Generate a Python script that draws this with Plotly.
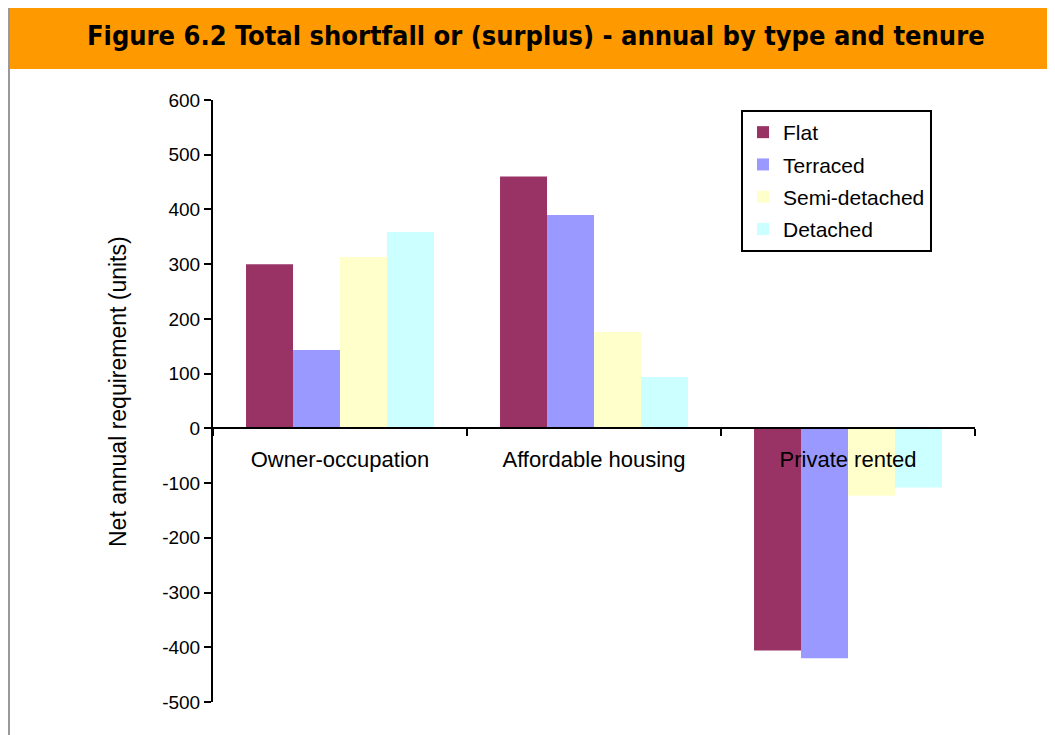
import plotly.graph_objects as go

categories = ["Owner-occupation", "Affordable housing", "Private rented"]
series_names = ["Flat", "Terraced", "Semi-detached", "Detached"]
flat = [300, 460, -406]
terraced = [143, 390, -420]
semi_detached = [313, 176, -123]
detached = [359, 94, -108]
colors = ["#993366", "#9999FF", "#FFFFCC", "#CCFFFF"]
y_ticks = [600, 500, 400, 300, 200, 100, 0, -100, -200, -300, -400, -500]
y_tick_text = [str(v) for v in y_ticks]

OFF = 8  # page body margin
W, H = 1055 - OFF, 735 - OFF
# plot area in screen pixels
L, R, T, B = 213, 975, 100, 702


def px(x):
    return (x - L) / (R - L)


def py(y):
    return (B - y) / (B - T)


fig = go.Figure()
for i, (name, vals) in enumerate(zip(series_names, [flat, terraced, semi_detached, detached])):
    fig.add_trace(go.Bar(
        x=categories, y=vals, name=name, legendgroup=name,
        marker=dict(color=colors[i], line=dict(width=0)),
    ))

font_main = "Liberation Sans, Arial, sans-serif"

fig.update_layout(
    width=W, height=H,
    margin=dict(l=L - OFF, r=W - (R - OFF), t=T - OFF, b=H - (B - OFF), pad=0),
    paper_bgcolor="white", plot_bgcolor="white",
    barmode="group", bargap=0.26, bargroupgap=0,
    showlegend=True,
    legend=dict(
        x=px(741), y=py(110), xanchor="left", yanchor="top",
        bordercolor="black", borderwidth=2, bgcolor="white",
        font=dict(family=font_main, size=21, color="black"),
        tracegroupgap=2, itemwidth=30,
    ),
    font=dict(family=font_main, color="black"),
    xaxis=dict(
        type="category", anchor="free", position=py(428.4),
        showline=True, linecolor="black", linewidth=2,
        ticks="outside", tickson="boundaries", ticklen=7, tickwidth=2, tickcolor="black",
        tickfont=dict(size=22, family=font_main), showgrid=False, zeroline=False,
        ticklabelstandoff=11,
        layer="above traces",
    ),
    yaxis=dict(
        range=[-500, 600], tickvals=y_ticks, ticktext=y_tick_text,
        showline=True, linecolor="black", linewidth=2,
        ticks="outside", ticklen=7, tickwidth=2, tickcolor="black",
        tickfont=dict(size=19, family=font_main), showgrid=False,
        zeroline=False,
    ),
    shapes=[
        dict(type="rect", xref="paper", yref="paper", x0=px(10), x1=px(1060), y0=py(69), y1=py(3),
             fillcolor="#FF9900", line=dict(width=0), layer="below"),
        dict(type="line", xref="paper", yref="paper", x0=px(9), x1=px(9), y0=py(0), y1=py(740),
             line=dict(color="#999999", width=2)),
        dict(type="line", xref="paper", yref="paper", x0=px(9), x1=px(1060), y0=py(2), y1=py(2),
             line=dict(color="#999999", width=2)),
    ],
    annotations=[
        dict(text="<b>Figure 6.2 Total shortfall or (surplus) - annual by type and tenure</b>",
             xref="paper", yref="paper", x=px(536), y=py(36), xanchor="center", yanchor="middle",
             showarrow=False, font=dict(family="DejaVu Sans Condensed, DejaVu Sans, sans-serif", size=27, color="black")),
        dict(text="Net annual requirement (units)", textangle=-90,
             xref="paper", yref="paper", x=px(118), y=py(392), xanchor="center", yanchor="middle",
             showarrow=False, font=dict(family=font_main, size=23, color="black")),
    ],
)

fig.write_html("out.html")
